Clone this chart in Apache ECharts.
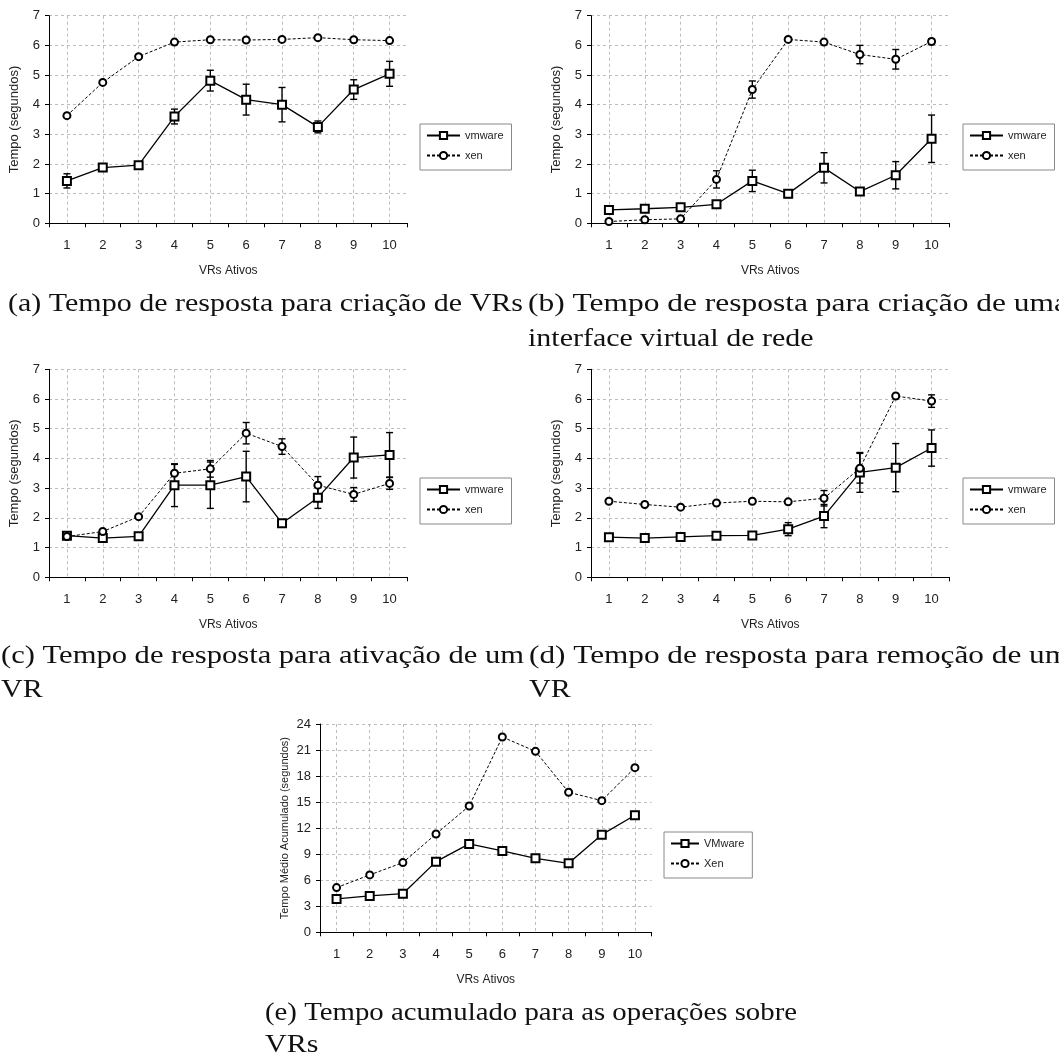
<!DOCTYPE html>
<html>
<head>
<meta charset="utf-8">
<script src="https://cdn.jsdelivr.net/npm/echarts@6/dist/echarts.min.js"></script>
<style>
html, body { margin: 0; padding: 0; background: #fff; }
#main { width: 1059px; height: 1057px; }
</style>
</head>
<body>
<div id="main"></div>
<script>
// VRs ativos
const cats = ['1', '2', '3', '4', '5', '6', '7', '8', '9', '10'];

// (a) criação de VRs
const vmwareCriacao = [1.43, 1.88, 1.96, 3.6, 4.81, 4.17, 4.0, 3.25, 4.51, 5.04];
const vmwareCriacaoErr = [0.24, 0, 0, 0.25, 0.35, 0.52, 0.58, 0.2, 0.33, 0.42];
const xenCriacao = [3.63, 4.75, 5.62, 6.11, 6.19, 6.18, 6.2, 6.26, 6.19, 6.16];
const xenCriacaoErr = [0, 0, 0, 0, 0, 0, 0, 0, 0, 0];

// (b) criação de interface virtual
const vmwareInterface = [0.45, 0.49, 0.54, 0.64, 1.43, 1.0, 1.87, 1.07, 1.62, 2.85];
const vmwareInterfaceErr = [0, 0, 0, 0, 0.36, 0.13, 0.51, 0.08, 0.46, 0.8];
const xenInterface = [0.06, 0.12, 0.15, 1.48, 4.51, 6.2, 6.11, 5.69, 5.53, 6.13];
const xenInterfaceErr = [0, 0, 0, 0.29, 0.29, 0, 0, 0.31, 0.33, 0.09];

// (c) ativação de um VR
const vmwareAtivacao = [1.4, 1.32, 1.38, 3.1, 3.1, 3.39, 1.82, 2.68, 4.03, 4.12];
const vmwareAtivacaoErr = [0, 0, 0, 0.72, 0.78, 0.85, 0.05, 0.36, 0.69, 0.75];
const xenAtivacao = [1.37, 1.54, 2.04, 3.5, 3.65, 4.85, 4.4, 3.1, 2.79, 3.16];
const xenAtivacaoErr = [0, 0, 0, 0.3, 0.28, 0.36, 0.26, 0.29, 0.23, 0.2];

// (d) remoção de um VR
const vmwareRemocao = [1.35, 1.32, 1.36, 1.4, 1.41, 1.62, 2.06, 3.53, 3.69, 4.35];
const vmwareRemocaoErr = [0, 0, 0, 0, 0, 0.22, 0.39, 0.67, 0.81, 0.61];
const xenRemocao = [2.56, 2.45, 2.36, 2.5, 2.56, 2.54, 2.66, 3.67, 6.1, 5.93];
const xenRemocaoErr = [0, 0, 0, 0, 0, 0, 0.26, 0.5, 0, 0.21];

// (e) tempo acumulado
const vmwareAcumulado = [3.84, 4.19, 4.45, 8.14, 10.18, 9.37, 8.52, 7.95, 11.25, 13.48];
const xenAcumulado = [5.15, 6.61, 8.03, 11.33, 14.55, 22.5, 20.85, 16.13, 15.17, 18.97];

const sans = '"Liberation Sans Narrow", "Arial Narrow", "Liberation Sans", sans-serif';
const capFamily = 'Liberation Serif';
const capSize = 25;

const panels = [
    { grid: { left: 49, top: 15.7, width: 358.5, height: 207.6 }, max: 7, interval: 1,
      yName: 'Tempo (segundos)', nameSize: 13, names: ['vmware', 'xen'],
      legend: { left: 420, top: 124, itemWidth: 33 },
      series: [[vmwareCriacao, vmwareCriacaoErr], [xenCriacao, xenCriacaoErr]] },
    { grid: { left: 591, top: 15.7, width: 358.5, height: 207.6 }, max: 7, interval: 1,
      yName: 'Tempo (segundos)', nameSize: 13, names: ['vmware', 'xen'],
      legend: { left: 963, top: 124, itemWidth: 33 },
      series: [[vmwareInterface, vmwareInterfaceErr], [xenInterface, xenInterfaceErr]] },
    { grid: { left: 49, top: 369.3, width: 358.5, height: 208 }, max: 7, interval: 1,
      yName: 'Tempo (segundos)', nameSize: 13, names: ['vmware', 'xen'],
      legend: { left: 420, top: 478, itemWidth: 33 },
      series: [[vmwareAtivacao, vmwareAtivacaoErr], [xenAtivacao, xenAtivacaoErr]] },
    { grid: { left: 591, top: 369.3, width: 358.5, height: 208 }, max: 7, interval: 1,
      yName: 'Tempo (segundos)', nameSize: 13, names: ['vmware', 'xen'],
      legend: { left: 963, top: 478, itemWidth: 33 },
      series: [[vmwareRemocao, vmwareRemocaoErr], [xenRemocao, xenRemocaoErr]] },
    { grid: { left: 320, top: 724, width: 331.5, height: 208.3 }, max: 24, interval: 3,
      yName: 'Tempo Médio Acumulado (segundos)', nameSize: 11, names: ['VMware', 'Xen'],
      legend: { left: 664, top: 832, itemWidth: 28 },
      series: [[vmwareAcumulado, null], [xenAcumulado, null]] }
];

const gridColor = '#bcbcbc';

const grids = [], xAxes = [], yAxes = [], series = [], legends = [];
panels.forEach((p, i) => {
    grids.push(p.grid);
    xAxes.push({
        type: 'category', gridIndex: i, data: cats, boundaryGap: true,
        axisLine: { lineStyle: { color: '#000', width: 1 } },
        axisTick: { show: true, length: 4, lineStyle: { color: '#000' } },
        axisLabel: { color: '#222', fontSize: 13, margin: 16, fontFamily: sans },
        splitLine: { show: true, alignWithLabel: true, lineStyle: { color: gridColor, type: [3, 3] } },
        name: 'VRs Ativos', nameLocation: 'middle', nameGap: 41,
        nameTextStyle: { fontSize: 12, color: '#222', fontFamily: sans }
    });
    yAxes.push({
        type: 'value', gridIndex: i, min: 0, max: p.max, interval: p.interval,
        axisLine: { show: true, lineStyle: { color: '#000', width: 1 } },
        axisTick: { show: true, length: 4, lineStyle: { color: '#000' } },
        axisLabel: { color: '#222', fontSize: 13, margin: 9, fontFamily: sans },
        splitLine: { show: true, lineStyle: { color: gridColor, type: [3, 3] } },
        name: p.yName, nameLocation: 'middle', nameGap: p.nameSize > 11 ? 28 : 30,
        nameTextStyle: { fontSize: p.nameSize, color: '#222', fontFamily: sans }
    });
    p.series.forEach(([vals, errs], k) => {
        const solid = k === 0;
        series.push({
            type: 'line', name: p.names[k], xAxisIndex: i, yAxisIndex: i, data: vals,
            symbol: solid ? 'emptyRect' : 'emptyCircle', symbolSize: solid ? 8 : 7,
            showAllSymbol: true, z: 3,
            lineStyle: { color: '#000', width: solid ? 1.3 : 1, type: solid ? 'solid' : [3, 2] },
            itemStyle: { color: '#000', borderWidth: 1.1 }
        });
        if (errs) {
            series.push({
                type: 'custom', xAxisIndex: i, yAxisIndex: i, z: 2, silent: true,
                encode: { x: 0, y: 1 },
                data: vals.map((v, j) => [j, v, errs[j]]),
                renderItem(params, api) {
                    const e = api.value(2);
                    if (!e) return;
                    const x = api.value(0), v = api.value(1);
                    const top = api.coord([x, v + e]);
                    const bot = api.coord([x, v - e]);
                    const hw = 3.5;
                    const st = { stroke: '#000', lineWidth: 1.4 };
                    return {
                        type: 'group',
                        children: [
                            { type: 'line', shape: { x1: top[0], y1: top[1], x2: bot[0], y2: bot[1] }, style: st },
                            { type: 'line', shape: { x1: top[0] - hw, y1: top[1], x2: top[0] + hw, y2: top[1] }, style: st },
                            { type: 'line', shape: { x1: bot[0] - hw, y1: bot[1], x2: bot[0] + hw, y2: bot[1] }, style: st }
                        ]
                    };
                }
            });
        }
    });
    legends.push({
        orient: 'vertical', left: p.legend.left, top: p.legend.top,
        data: p.names, selectedMode: false,
        itemWidth: p.legend.itemWidth, itemHeight: 9, itemGap: 9,
        padding: [6, 8, 9, 6],
        borderColor: '#888', borderWidth: 1,
        textStyle: { fontSize: 11, color: '#222', fontFamily: sans }
    });
});

// legendas das subfiguras
const measure = document.createElement('canvas').getContext('2d');
measure.font = capSize + 'px "' + capFamily + '"';
const baseScale = 515 / measure.measureText('(a) Tempo de resposta para criação de VRs').width;
const captions = [
    { text: '(a) Tempo de resposta para criação de VRs', x: 8, y: 304, w: 515 },
    { text: '(b) Tempo de resposta para criação de uma', x: 528, y: 304, w: 540 },
    { text: 'interface virtual de rede', x: 528, y: 339 },
    { text: '(c) Tempo de resposta para ativação de um', x: 1, y: 656, w: 523 },
    { text: 'VR', x: 1, y: 690 },
    { text: '(d) Tempo de resposta para remoção de um', x: 529, y: 656, w: 540 },
    { text: 'VR', x: 529, y: 690 },
    { text: '(e) Tempo acumulado para as operações sobre', x: 265, y: 1013, w: 532 },
    { text: 'VRs', x: 265, y: 1045 }
];
const graphic = captions.map(c => ({
    type: 'text', x: c.x, y: c.y, silent: true,
    scaleX: c.w ? c.w / measure.measureText(c.text).width : baseScale,
    style: {
        text: c.text, fontFamily: capFamily, fontSize: capSize,
        fill: '#111', verticalAlign: 'middle'
    }
}));

const chart = echarts.init(document.getElementById('main'));
chart.setOption({
    animation: false,
    backgroundColor: '#fff',
    grid: grids,
    xAxis: xAxes,
    yAxis: yAxes,
    legend: legends,
    series: series,
    graphic: graphic
});
</script>
</body>
</html>
